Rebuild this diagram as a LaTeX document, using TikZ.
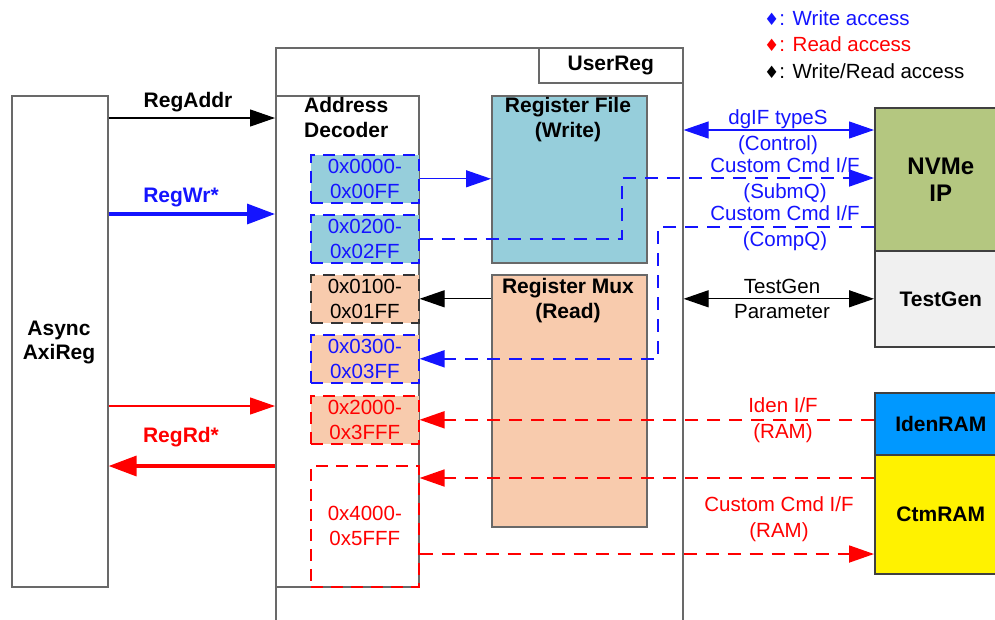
\documentclass[tikz,border=0pt]{standalone}
\usepackage{fontspec}
\setmainfont{Liberation Sans}
\newfontfamily\symfont{DejaVu Sans}
\usetikzlibrary{arrows.meta}

\definecolor{wrblue}{RGB}{20,20,255}
\definecolor{rdred}{RGB}{255,0,0}
\definecolor{boxgray}{RGB}{105,105,105}
\definecolor{rffill}{RGB}{150,206,219}
\definecolor{muxfill}{RGB}{248,203,173}
\definecolor{nvmefill}{RGB}{180,199,128}
\definecolor{tgfill}{RGB}{240,240,240}
\definecolor{idenfill}{RGB}{0,152,255}

\tikzset{
  box/.style={draw=boxgray, line width=1.6pt, inner sep=0pt, anchor=north west},
  addrbox/.style={box, dashed, dash pattern=on 12pt off 8pt, minimum width=108pt,
    minimum height=48pt, align=center, font=\fontsize{20.5}{25}\selectfont},
  lbl/.style={inner sep=0pt, anchor=base, font=\fontsize{20.5}{25.5}\selectfont},
  blbl/.style={inner sep=0pt, anchor=base, font=\fontsize{21}{25}\selectfont\bfseries},
  twolbl/.style={lbl, anchor=north, align=center},
  thin/.style={line width=1.2pt, -{Triangle[length=25pt,width=17pt]}},
  thick/.style={line width=3.4pt, -{Triangle[length=28pt,width=20pt]}},
  dashline/.style={line width=1.8pt, dash pattern=on 13pt off 9pt,
    -{Triangle[length=25pt,width=17pt]}},
}

\begin{document}
\begin{tikzpicture}[x=1pt,y=-1pt]
\clip (0,0) rectangle (995,619);

% legend
\node[lbl, anchor=base west, text=wrblue] (legwr) at (764,25) {{\symfont\fontsize{17}{17}\selectfont ♦}: Write access};
\node[lbl, anchor=base west, text=rdred] (legrd) at (764,51) {{\symfont\fontsize{17}{17}\selectfont ♦}: Read access};
\node[lbl, anchor=base west] (legwrrd) at (764,78) {{\symfont\fontsize{17}{17}\selectfont ♦}: Write/Read access};

% blocks
\node[box, minimum width=96pt, minimum height=491pt] (axi) at (11,95) {};
\node[box, minimum width=407pt, minimum height=620pt] (ur) at (275,47) {};
\node[box, minimum width=144pt, minimum height=35pt, font=\fontsize{21}{25}\selectfont\bfseries] (urlbl) at (538,47) {UserReg};
\node[box, minimum width=143pt, minimum height=491pt] (dec) at (275,95) {};
\node[box, fill=rffill, minimum width=155pt, minimum height=167pt] (rf) at (491,95) {};
\node[box, fill=muxfill, minimum width=155pt, minimum height=252pt] (rmux) at (491,274) {};

\node[addrbox, fill=rffill, draw=wrblue, text=wrblue] (a0000) at (310,154) {0x0000-\\0x00FF};
\node[addrbox, fill=rffill, draw=wrblue, text=wrblue] (a0200) at (310,214) {0x0200-\\0x02FF};
\node[addrbox, fill=muxfill, draw=black!80] (a0100) at (310,274) {0x0100-\\0x01FF};
\node[addrbox, fill=muxfill, draw=wrblue, text=wrblue] (a0300) at (310,334) {0x0300-\\0x03FF};
\node[addrbox, fill=muxfill, draw=rdred, text=rdred] (a2000) at (310,395) {0x2000-\\0x3FFF};
\node[addrbox, draw=rdred, text=rdred, minimum height=121pt] (a4000) at (310,465) {0x4000-\\0x5FFF};

\node[box, draw=black!75, fill=nvmefill, minimum width=132pt, minimum height=143pt, align=center,
  font=\fontsize{24}{27}\selectfont\bfseries] (nvme) at (874,107) {NVMe\\IP};
\node[box, draw=black!75, fill=tgfill, minimum width=132pt, minimum height=96pt,
  font=\fontsize{21}{25}\selectfont\bfseries] (tgen) at (874,250) {TestGen};
\node[box, draw=black!75, fill=idenfill, minimum width=132pt, minimum height=62pt,
  font=\fontsize{21}{25}\selectfont\bfseries] (iden) at (874,392) {IdenRAM};
\node[box, draw=black!75, fill=yellow, minimum width=132pt, minimum height=119pt,
  font=\fontsize{21}{25}\selectfont\bfseries] (ctm) at (874,454) {CtmRAM};

% block titles
\node[blbl, anchor=north] (laxi) at (59,318) {\begin{tabular}{@{}c@{}}Async\\[-0.9pt]AxiReg\end{tabular}};
\node[blbl, anchor=north west, align=left] (ldec) at (304,97) {Address\\Decoder};
\node[blbl, anchor=north, align=center] (lrf) at (568,97) {Register File\\(Write)};
\node[blbl, anchor=north, align=center] (lmux) at (568,278) {Register Mux\\(Read)};

% AsyncAxiReg <-> UserReg
\draw[thin] (axi.east |- 0,118) -- (dec.west |- 0,118);
\node[blbl] (laddr) at (188,107) {RegAddr};
\draw[thick, wrblue] (axi.east |- 0,214) -- (dec.west |- 0,214);
\node[blbl, text=wrblue] (lwr) at (181,202) {RegWr*};
\draw[thin, rdred] (axi.east |- 0,406) -- (dec.west |- 0,406);
\draw[thick, rdred] (dec.west |- 0,466) -- (axi.east |- 0,466);
\node[blbl, text=rdred] (lrd) at (181,442) {RegRd*};

% inside UserReg
\draw[thin, wrblue] (a0000.east) -- (rf.west |- a0000.east);
\draw[thin] (rmux.west |- a0100.east) -- (a0100.east);

% NVMe IP / TestGen
\coordinate (sqbend) at (622,178);
\coordinate (cqbend) at (658,227);
\draw[thin, wrblue, {Triangle[length=25pt,width=17pt]}-{Triangle[length=25pt,width=17pt]}]
  (ur.east |- 0,130) -- (nvme.west |- 0,130);
\node[twolbl, text=wrblue] (ldgif) at (778,109.5) {dgIF typeS\\(Control)};
\draw[dashline, wrblue] (a0200.east) -| (sqbend) -- (nvme.west |- sqbend);
\node[twolbl, text=wrblue] (lsubmq) at (785,157.5) {Custom Cmd I/F\\(SubmQ)};
\draw[dashline, wrblue] (nvme.west |- cqbend) -- (cqbend) |- (a0300.east);
\node[twolbl, text=wrblue] (lcompq) at (785,205.5) {Custom Cmd I/F\\(CompQ)};
\draw[thin, {Triangle[length=25pt,width=17pt]}-{Triangle[length=25pt,width=17pt]}]
  (ur.east |- tgen.west) -- (tgen.west);
\node[twolbl] (ltgen) at (782,278.5) {TestGen\\Parameter};

% RAMs
\draw[dashline, rdred] (iden.west |- a2000.east) -- (a2000.east);
\node[twolbl, text=rdred] (liden) at (783,397.5) {Iden I/F\\(RAM)};
\draw[dashline, rdred] (ctm.west |- 0,478) -- (a4000.east |- 0,478);
\draw[dashline, rdred] (a4000.east |- 0,554) -- (ctm.west |- 0,554);
\node[twolbl, text=rdred] (lctm) at (779,496.5) {Custom Cmd I/F\\(RAM)};
\end{tikzpicture}
\end{document}
